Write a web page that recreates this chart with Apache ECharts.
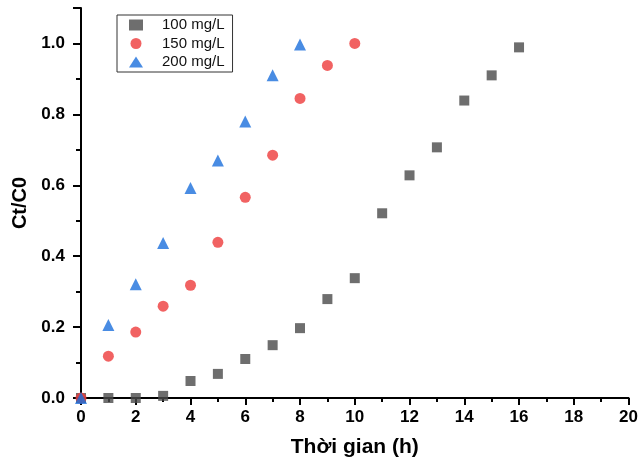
<!DOCTYPE html>
<html><head><meta charset="utf-8">
<script src="https://cdn.jsdelivr.net/npm/echarts@6/dist/echarts.min.js"></script>
<style>html,body{margin:0;padding:0;background:#fff}#c{width:641px;height:463px}</style>
</head><body><div id="c"></div>
<script>
const seriesNames = ['100 mg/L', '150 mg/L', '200 mg/L'];
const time100 = [0,1,2,3,4,5,6,7,8,9,10,11,12,13,14,15,16];
const val100 = [0,0,0,0.006,0.048,0.068,0.11,0.149,0.197,0.279,0.338,0.521,0.628,0.707,0.839,0.91,0.989];
const time150 = [0,1,2,3,4,5,6,7,8,9,10];
const val150 = [0,0.118,0.186,0.259,0.318,0.439,0.566,0.685,0.845,0.938,1.0];
const time200 = [0,1,2,3,4,5,6,7,8];
const val200 = [0,0.206,0.321,0.437,0.592,0.67,0.78,0.91,0.997];
const xTitle = 'Thời gian (h)';
const yTitle = 'Ct/C0';

const zip = (a,b)=>a.map((v,i)=>[v,b[i]]);
const chart = echarts.init(document.getElementById('c'));
const font = 'Liberation Sans, Arial, sans-serif';
chart.setOption({
  animation:false,
  backgroundColor:'#fff',
  grid:{left:81,right:11,top:8,bottom:65},
  legend:{
    left:117, top:15, orient:'vertical', itemGap:3.5,
    itemWidth:14, itemHeight:11,
    borderColor:'#333', borderWidth:1, padding:[2.5,8,2.5,12],
    textStyle:{fontFamily:font,fontSize:15,lineHeight:15,color:'#111',padding:[0,0,0,14]},
    data:seriesNames
  },
  xAxis:{
    type:'value', min:0, max:20, interval:2,
    name:xTitle, nameLocation:'middle', nameGap:39,
    nameTextStyle:{fontFamily:font,fontSize:21,fontWeight:'bold',color:'#000'},
    axisLine:{lineStyle:{color:'#000',width:2}},
    axisTick:{inside:false,length:7,lineStyle:{color:'#000',width:2}},
    minorTick:{show:true,splitNumber:2,length:4,lineStyle:{color:'#000',width:2}},
    axisLabel:{fontFamily:font,fontSize:17,fontWeight:'bold',color:'#000',margin:11},
    splitLine:{show:false}
  },
  yAxis:{
    type:'value', min:0, max:1.1, interval:0.2,
    name:yTitle, nameLocation:'middle', nameGap:48,
    nameTextStyle:{fontFamily:font,fontSize:20,fontWeight:'bold',color:'#000'},
    axisLine:{lineStyle:{color:'#000',width:2}},
    axisTick:{inside:false,length:8,lineStyle:{color:'#000',width:2}},
    minorTick:{show:true,splitNumber:2,length:5,lineStyle:{color:'#000',width:2}},
    axisLabel:{fontFamily:font,fontSize:17,fontWeight:'bold',color:'#000',margin:16,
      showMaxLabel:false, formatter:v=>v.toFixed(1)},
    splitLine:{show:false}
  },
  series:[
    {name:seriesNames[0],type:'scatter',symbol:'rect',symbolSize:10,itemStyle:{color:'#4a4a4a'},data:zip(time100,val100)},
    {name:seriesNames[1],type:'scatter',symbol:'circle',symbolSize:11,itemStyle:{color:'#ee3b3b'},data:zip(time150,val150)},
    {name:seriesNames[2],type:'scatter',symbol:'triangle',symbolSize:12,itemStyle:{color:'#1c6fdc'},data:zip(time200,val200)}
  ]
});
</script></body></html>
